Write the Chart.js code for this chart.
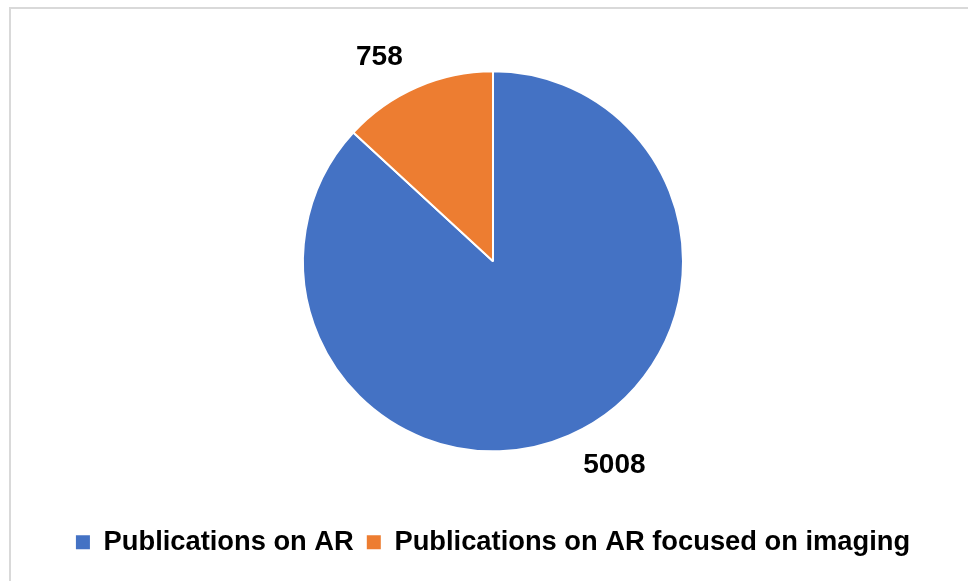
<!DOCTYPE html>
<html>
<head>
<meta charset="utf-8">
<script src="https://cdn.jsdelivr.net/npm/chart.js@4/dist/chart.umd.min.js"></script>
<style>
  html, body { margin: 0; padding: 0; background: #fff; overflow: hidden; }
  #moldura {
    position: absolute; left: 9px; top: 7px; width: 1000px; height: 620px;
    border: 2px solid #d9d9d9; box-sizing: border-box;
  }
  #caixa { position: absolute; left: 0; top: 0; width: 968px; height: 581px; }
</style>
</head>
<body>
<div id="moldura"></div>
<div id="caixa"><canvas id="graficoPizza"></canvas></div>
<script>
// Dados do gráfico
const categorias = ['Publications on AR', 'Publications on AR focused on imaging'];
const valores = [5008, 758];
const cores = ['#4472C4', '#ED7D31'];

// Plugin simples para escrever o valor fora de cada fatia
const rotulosFora = {
  id: 'rotulosFora',
  afterDatasetsDraw(chart) {
    const ctx = chart.ctx;
    const meta = chart.getDatasetMeta(0);
    ctx.save();
    ctx.font = 'bold 28px "Liberation Sans", Arial, sans-serif';
    ctx.fillStyle = '#000';
    ctx.textAlign = 'center';
    ctx.textBaseline = 'middle';
    meta.data.forEach((arco, i) => {
      const p = arco.getProps(['x', 'y', 'startAngle', 'endAngle', 'outerRadius'], true);
      const meio = (p.startAngle + p.endAngle) / 2;
      const dist = p.outerRadius + 20;
      const ax = p.x + Math.cos(meio) * dist;
      const ay = p.y + Math.sin(meio) * dist;
      const texto = String(valores[i]);
      const w = ctx.measureText(texto).width;
      const h = 24;
      // encosta o canto da caixa do texto no ponto de ancoragem
      const cx = ax + Math.sign(Math.cos(meio)) * (w / 2 + 6);
      const cy = ay + Math.sign(Math.sin(meio)) * h / 2;
      ctx.fillText(texto, cx, cy);
    });
    ctx.restore();
  }
};

const ctx = document.getElementById('graficoPizza').getContext('2d');
new Chart(ctx, {
  type: 'pie',
  data: {
    labels: categorias,
    datasets: [{
      data: valores,
      backgroundColor: cores,
      borderColor: '#ffffff',
      borderWidth: 2,
      radius: 190
    }]
  },
  options: {
    responsive: true,
    maintainAspectRatio: false,
    animation: false,
    layout: { padding: { top: 7, left: 18, right: 0, bottom: 15 } },
    plugins: {
      tooltip: { enabled: false },
      legend: {
        position: 'bottom',
        labels: {
          boxWidth: 14,
          boxHeight: 14,
          padding: 13,
          color: '#000',
          font: { family: '"Liberation Sans", Arial, sans-serif', size: 27.3, weight: 'bold' },
          generateLabels(chart) {
            const itens = Chart.overrides.pie.plugins.legend.labels.generateLabels(chart);
            itens.forEach(it => { it.lineWidth = 0; it.strokeStyle = 'rgba(0,0,0,0)'; });
            return itens;
          }
        }
      }
    }
  },
  plugins: [rotulosFora]
});
</script>
</body>
</html>
